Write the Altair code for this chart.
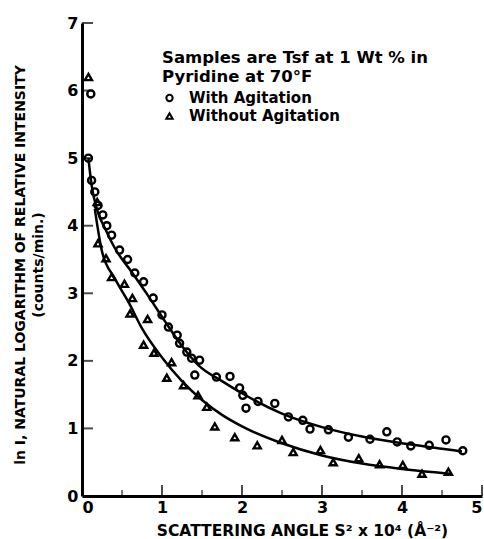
import altair as alt
import pandas as pd

# --- data ---
with_x = [0.11, 0.08, 0.12, 0.16, 0.20, 0.26, 0.31, 0.37, 0.47, 0.57, 0.66, 0.77, 0.89, 1.00,
          1.08, 1.19, 1.22, 1.31, 1.37, 1.47, 1.41, 1.68, 1.85, 1.97, 2.01, 2.05, 2.20, 2.41,
          2.58, 2.76, 2.85, 3.08, 3.33, 3.60, 3.81, 3.94, 4.11, 4.34, 4.55, 4.76]
with_y = [5.95, 5.00, 4.67, 4.50, 4.30, 4.16, 4.00, 3.86, 3.64, 3.50, 3.30, 3.17, 2.93, 2.68,
          2.50, 2.38, 2.26, 2.13, 2.04, 2.01, 1.79, 1.76, 1.77, 1.60, 1.49, 1.30, 1.40, 1.37,
          1.17, 1.12, 0.99, 0.98, 0.87, 0.84, 0.95, 0.80, 0.74, 0.75, 0.83, 0.67]

without_x = [0.08, 0.19, 0.20, 0.30, 0.37, 0.53, 0.63, 0.60, 0.82, 0.77, 0.90, 1.06, 1.12, 1.27,
             1.45, 1.56, 1.66, 1.91, 2.19, 2.50, 2.64, 2.98, 3.14, 3.46, 3.72, 4.01, 4.25, 4.58]
without_y = [6.20, 4.35, 3.74, 3.52, 3.24, 3.14, 2.93, 2.70, 2.62, 2.24, 2.12, 1.75, 1.98, 1.64,
             1.49, 1.32, 1.03, 0.87, 0.75, 0.83, 0.65, 0.68, 0.50, 0.56, 0.47, 0.46, 0.33, 0.36]

curve_with_x = [0.08, 0.12, 0.19, 0.30, 0.41, 0.63, 0.84, 1.04, 1.25, 1.46, 1.75, 2.00, 2.50,
                3.00, 3.50, 4.00, 4.50, 4.75]
curve_with_y = [5.00, 4.60, 4.23, 3.93, 3.67, 3.30, 2.94, 2.58, 2.22, 1.93, 1.70, 1.52, 1.22,
                1.02, 0.88, 0.78, 0.70, 0.66]

curve_without_x = [0.16, 0.25, 0.41, 0.59, 0.75, 1.00, 1.25, 1.50, 1.75, 2.00, 2.50, 3.00,
                   3.50, 4.00, 4.60]
curve_without_y = [4.25, 3.62, 3.22, 2.85, 2.48, 2.05, 1.70, 1.42, 1.20, 1.03, 0.78, 0.60,
                   0.48, 0.40, 0.33]

series_names = ["With Agitation", "Without Agitation"]
x_ticks = [0, 1, 2, 3, 4, 5]
x_minor = [0.5, 1.5, 2.5, 3.5, 4.5]
y_ticks = [0, 1, 2, 3, 4, 5, 6, 7]

points = pd.DataFrame({
    "x": with_x + without_x,
    "y": with_y + without_y,
    "series": [series_names[0]] * len(with_x) + [series_names[1]] * len(without_x),
})
curves = pd.DataFrame({
    "x": curve_with_x + curve_without_x,
    "y": curve_with_y + curve_without_y,
    "series": [series_names[0]] * len(curve_with_x) + [series_names[1]] * len(curve_without_x),
})

W, H = 400, 473
FONT = "DejaVu Sans"

xs = alt.Scale(domain=[0, 5], nice=False)
ys = alt.Scale(domain=[0, 7], nice=False)

x_axis = alt.Axis(values=x_ticks, format="d", ticks=False, grid=False, domainWidth=3,
                  domainColor="black", labelFontSize=16, labelFontWeight="bold",
                  labelFont=FONT, labelColor="black", labelPadding=3,
                  title="SCATTERING ANGLE S² x 10⁴ (Å⁻²)", titleFont=FONT, titleFontSize=15.5,
                  titleFontWeight="bold", titleColor="black", titleX=220, titlePadding=8)
y_axis = alt.Axis(values=y_ticks, format="d", ticks=False, grid=False, domainWidth=3,
                  domainColor="black", labelFontSize=16, labelFontWeight="bold",
                  labelFont=FONT, labelColor="black", labelPadding=4,
                  title=["ln I, NATURAL LOGARITHM OF RELATIVE INTENSITY", "(counts/min.)"],
                  titleFont=FONT, titleFontSize=14, titleFontWeight="bold",
                  titleColor="black", titleLineHeight=18, titleLimit=600,
                  titleX=-62, titleY=H / 2 + 5, titleBaseline="middle", titleAlign="center",
                  titleAngle=270)

lines = alt.Chart(curves).mark_line(color="black", strokeWidth=2.5, interpolate="monotone").encode(
    x=alt.X("x:Q", scale=xs, axis=x_axis),
    y=alt.Y("y:Q", scale=ys, axis=y_axis),
    detail="series:N",
)

pts = alt.Chart(points).mark_point(filled=False, color="black", strokeWidth=2.4, size=50,
                                   opacity=1).encode(
    x=alt.X("x:Q", scale=xs),
    y=alt.Y("y:Q", scale=ys),
    shape=alt.Shape("series:N",
                    scale=alt.Scale(domain=series_names, range=["circle", "triangle-up"]),
                    legend=alt.Legend(
                        title=["Samples are Tsf at 1 Wt % in", "Pyridine at 70°F"],
                        orient="none", legendX=80, legendY=27, padding=0,
                        titleFont=FONT, titleFontSize=16.5, titleFontWeight="bold",
                        titleColor="black", titleLineHeight=19, titlePadding=5,
                        titleLimit=400, labelLimit=400,
                        labelFont=FONT, labelFontSize=15, labelFontWeight="bold",
                        labelColor="black", symbolStrokeColor="black",
                        symbolStrokeWidth=2, symbolSize=40, symbolFillColor="white",
                        rowPadding=2, labelOffset=12)),
)

ydf = pd.DataFrame({"v": y_ticks[1:]})
xdf = pd.DataFrame({"v": x_ticks[1:]})
mdf = pd.DataFrame({"v": x_minor})

ytk = alt.Chart(ydf).mark_tick(orient="horizontal", size=11, thickness=2, color="black").encode(
    y=alt.Y("v:Q", scale=ys), x=alt.value(5.5))
xtk = alt.Chart(xdf).mark_tick(orient="vertical", size=11, thickness=2, color="black").encode(
    x=alt.X("v:Q", scale=xs), y=alt.value(H - 5.5))
mtk = alt.Chart(mdf).mark_tick(orient="vertical", size=6, thickness=1.5, color="black").encode(
    x=alt.X("v:Q", scale=xs), y=alt.value(H - 3))

chart = alt.layer(lines, pts, ytk, xtk, mtk).properties(
    width=W, height=H,
    autosize=alt.AutoSizeParams(type="none"),
    padding={"left": 82, "top": 23, "right": 2, "bottom": 43},
    background="white",
).configure_view(stroke=None)

chart.save("out.html", embed_options={"renderer": "svg", "actions": False})
